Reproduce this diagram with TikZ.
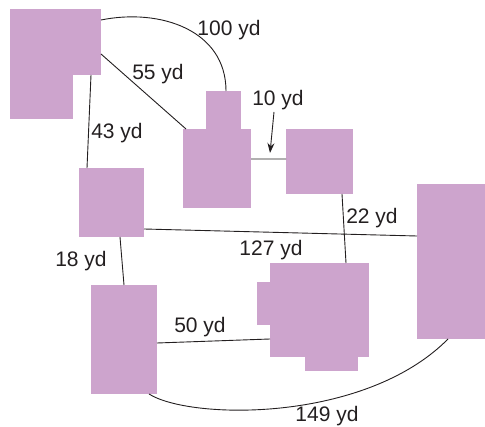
\documentclass[tikz,border=0pt]{standalone}
\usepackage{fontspec}
\setmainfont{Liberation Sans}
\usetikzlibrary{calc,arrows.meta}
\definecolor{lilac}{RGB}{205,164,205}
\definecolor{ink}{RGB}{35,31,32}

\begin{document}
\begin{tikzpicture}[x=1pt,y=-1pt,
    bldg/.style={fill=lilac,draw=none,inner sep=0,outer sep=0,anchor=north west},
    dist/.style={text=ink,inner sep=0,font=\fontsize{21}{24}\selectfont},
    road/.style={draw=ink,line width=0.9pt}]
   \useasboundingbox (0,0) rectangle (485,427);

   % buildings
   \node[bldg,minimum width=91,minimum height=66] (A) at (10,9) {};
   \node[bldg,minimum width=63,minimum height=44] (A2) at (10,75) {};
   \node[bldg,minimum width=35,minimum height=38] (Btop) at (206,91) {};
   \node[bldg,minimum width=68,minimum height=79] (B) at (183,129) {};
   \node[bldg,minimum width=65,minimum height=69] (C) at (79,168) {};
   \node[bldg,minimum width=67,minimum height=65] (D) at (286,129) {};
   \node[bldg,minimum width=68,minimum height=155] (E) at (417,184) {};
   \node[bldg,minimum width=66,minimum height=109] (F) at (91,285) {};
   \node[bldg,minimum width=13,minimum height=43] (Gleft) at (257,282) {};
   \node[bldg,minimum width=99,minimum height=94] (G) at (270,263) {};
   \node[bldg,minimum width=53,minimum height=14] (Gbot) at (305,357) {};

   % distances
   \node[dist] (d100) at (229,30) {100 yd};
   \node[dist] (d55) at (158,74) {55 yd};
   \node[dist] (d43) at (117,133) {43 yd};
   \node[dist] (d10) at (278,100) {10 yd};
   \node[dist] (d22) at (372,218) {22 yd};
   \node[dist] (d127) at (271,250) {127 yd};
   \node[dist] (d18) at (81,261) {18 yd};
   \node[dist] (d50) at (200,327) {50 yd};
   \node[dist] (d149) at (327,416) {149 yd};
   \coordinate (p10) at (270,153);

   \path[road]
    ($(A.north east)+(0,11)$) .. controls (160,8) and (226,30) .. ($(Btop.north west)+(20,0)$)
    ($(A.north east)+(0,45)$) -- ($(B.north west)+(3,0)$)
    ($(A.south east)+(-10,0)$) -- ($(C.north west)+(8,0)$)
    ($(B.north east)+(0,30)$) -- ($(D.north west)+(0,30)$)
    ($(D.south west)+(56,0)$) -- ($(G.north west)+(76,0)$)
    ($(C.north east)+(0,61)$) -- ($(E.north west)+(0,52)$)
    ($(C.south west)+(41,0)$) -- ($(F.north west)+(33,0)$)
    ($(F.north east)+(0,58)$) -- ($(G.north west)+(0,76)$)
    ($(F.south west)+(58,0)$) .. controls (190,420) and (365,423) .. ($(E.south west)+(31,0)$);
   \draw[road,-{Stealth[length=10pt,width=7pt]}] ($(d10.south)+(-4,2)$) -- (p10);
\end{tikzpicture}
\end{document}
